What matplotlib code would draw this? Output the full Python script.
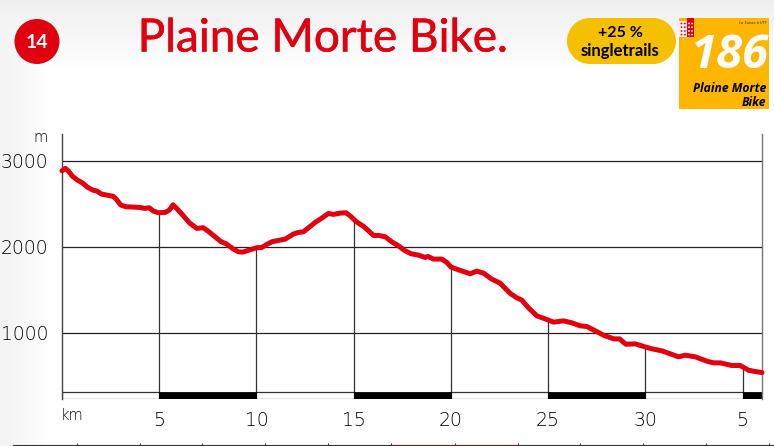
import numpy as np
import matplotlib
matplotlib.use("Agg")
import matplotlib.pyplot as plt
from matplotlib.patches import Circle, Rectangle
import matplotlib.patheffects as pe

# ---- data ----
km = [0, .17, .33, .53, .79, 1.06, 1.30, 1.58, 1.80, 2.02, 2.30, 2.64, 2.81, 3.02, 3.29, 3.67, 4.01, 4.24, 4.48, 4.70,
      4.96, 5.30, 5.52, 5.71, 5.93, 6.24, 6.55, 6.93, 7.27, 7.53, 7.87, 8.16, 8.44, 8.82, 9.07, 9.30, 9.67, 10.02,
      10.27, 10.53, 10.79, 11.13, 11.48, 11.90, 12.16, 12.42, 12.68, 13.02, 13.36, 13.70, 13.96, 14.31, 14.61, 14.85,
      15.16, 15.51, 15.76, 16.02, 16.28, 16.62, 16.96, 17.30, 17.64, 17.95, 18.33, 18.67, 18.81, 19.10, 19.53, 19.79,
      20.01, 20.39, 20.99, 21.33, 21.68, 22.10, 22.53, 23.05, 23.39, 23.65, 23.99, 24.42, 24.85, 25.28, 25.79, 26.22,
      26.65, 26.99, 27.42, 27.85, 28.37, 28.67, 29.00, 29.48, 29.99, 30.34, 30.85, 31.71, 32.05, 32.57, 33.17, 33.51,
      33.85, 34.45, 34.88, 35.31, 35.65, 36.0]
elevation = [2883, 2911, 2880, 2821, 2775, 2740, 2693, 2658, 2647, 2612, 2600, 2585, 2546, 2484, 2464, 2460, 2456, 2445,
             2452, 2414, 2394, 2398, 2425, 2487, 2437, 2359, 2278, 2212, 2220, 2177, 2115, 2060, 2033, 1971, 1940, 1936,
             1963, 1987, 1990, 2025, 2056, 2072, 2087, 2146, 2165, 2173, 2220, 2282, 2332, 2386, 2375, 2390, 2394, 2352,
             2286, 2235, 2185, 2130, 2130, 2115, 2056, 2010, 1952, 1917, 1901, 1874, 1886, 1855, 1855, 1816,
             1761, 1730, 1684, 1715, 1691, 1622, 1575, 1455, 1404, 1377, 1288, 1194, 1159, 1121, 1136, 1113,
             1078, 1070, 1020, 969, 926, 926, 864, 868, 833, 810, 787, 717, 736, 717, 666, 647,
             647, 616, 616, 561, 546, 534]
km_ticks = [5, 10, 15, 20, 25, 30, 35]
km_labels = ["5", "10", "15", "20", "25", "30", "5"]
elev_ticks = [1000, 2000, 3000]
elev_labels = ["1000", "2000", "3000"]
band_black = [(5, 5), (15, 5), (25, 5), (35, 1)]
band_white = [(0, 5), (10, 5), (20, 5), (30, 5)]

RED = "#e2000f"
W, H = 774, 446
font = "Lato"
axis_font = "DejaVu Sans"

fig = plt.figure(figsize=(W / 100, H / 100), dpi=100, facecolor="white")

# background wash
bg = fig.add_axes([0, 0, 1, 1], zorder=0)
yy, xx = np.mgrid[0:H, 0:W]
shade = np.maximum(0.065 * np.clip(1 - yy / 75, 0, 1), 0.05 * np.clip(1 - xx / 55, 0, 1))
bg.imshow(1 - shade, cmap="gray", vmin=0, vmax=1, aspect="auto", extent=(0, W, H, 0))
bg.set_axis_off()

# chart
ax = fig.add_axes([62 / W, (H - 398.5) / H, 700 / W, 264.5 / H], zorder=1)
ax.patch.set_alpha(0)
ax.set_xlim(0, 36)
ax.set_ylim(232, 3311)
for s in ("top", "bottom"):
    ax.spines[s].set_visible(False)
for s in ("left", "right"):
    ax.spines[s].set_linewidth(1.0)
    ax.spines[s].set_color("#444444")
ax.spines["right"].set_color("#777777")

ax.hlines(elev_ticks, 0, 36, color="#222222", lw=0.9, zorder=1)
ax.vlines(km_ticks, 307, np.interp(km_ticks, km, elevation), color="#333333", lw=0.9, zorder=1)
ax.broken_barh(band_white, (232, 75), facecolor="white", edgecolor="#333333", lw=0.9, zorder=2)
ax.broken_barh(band_black, (232, 75), facecolor="black", edgecolor="black", lw=0.6, zorder=2)
ax.plot(km, elevation, color=RED, lw=3.6, solid_capstyle="round", solid_joinstyle="round", zorder=3, clip_on=False)

ax.set_xticks(km_ticks, km_labels)
ax.set_yticks(elev_ticks, elev_labels)
ax.tick_params(length=0, labelsize=13.5, labelcolor="#000000")
ax.tick_params(axis="x", pad=9)
ax.tick_params(axis="y", pad=10)
for lab in ax.get_xticklabels() + ax.get_yticklabels():
    lab.set_family(axis_font)
    lab.set_fontweight("light")

# overlay in pixel coordinates
ov = fig.add_axes([0, 0, 1, 1], zorder=2)
ov.set_xlim(0, W)
ov.set_ylim(H, 0)
ov.set_axis_off()
ov.patch.set_alpha(0)

ov.text(48, 138, "m", ha="right", va="center", fontsize=10.5, fontweight="light", family=axis_font, color="#000000")
ov.text(61, 416, "km", ha="left", va="center", fontsize=10.5, fontweight="light", family=axis_font, color="#000000")

ov.add_patch(Circle((37, 41.5), 22.5, facecolor="#e0000f", edgecolor="none"))
ov.text(37, 42, "14", ha="center", va="center", color="white", fontsize=14, fontweight="bold", family=font)
title = ov.text(323, 51.5, "Plaine Morte Bike.", ha="center", va="baseline", color=RED, fontsize=33, family=font)
title.set_path_effects([pe.withStroke(linewidth=0.4, foreground=RED)])

# pill
for cx in (590, 653):
    ov.add_patch(Circle((cx, 41), 23, facecolor="#f5c000", edgecolor="none"))
ov.add_patch(Rectangle((590, 18), 63, 46, facecolor="#f5c000", edgecolor="none"))
ov.text(620, 33, "+25 %", ha="center", va="center", color="black", fontsize=11.5, fontweight="bold", family=font)
ov.text(620, 51, "singletrails", ha="center", va="center", color="black", fontsize=12, fontweight="bold", family=font)

# route sign
ov.add_patch(Rectangle((679, 18), 90, 91, facecolor="#ffb600", edgecolor="none"))
ov.add_patch(Rectangle((679, 21), 8, 16, facecolor="#fbeeee", edgecolor="none"))
ov.add_patch(Rectangle((687, 18), 7, 19, facecolor=RED, edgecolor="none"))
for i in range(4):
    for cx in (681.5, 684.8):
        ov.add_patch(Circle((cx, 23.5 + 3.7 * i), 0.9, facecolor=RED, edgecolor="none"))
    for cx in (689, 692):
        ov.add_patch(Circle((cx, 23.5 + 3.7 * i), 0.9, facecolor="white", edgecolor="none"))
ov.text(766, 23, "La Suisse à VTT", ha="right", va="center", color="#222222", fontsize=3, style="italic", family="Open Sans")
ov.text(730, 55, "186", ha="center", va="center", color="white", fontsize=34, fontweight="bold", style="italic", family="Open Sans")
ov.text(766, 89, "Plaine Morte", ha="right", va="center", color="black", fontsize=8.7, fontweight="bold", style="italic", family="Open Sans")
ov.text(766, 102, "Bike", ha="right", va="center", color="black", fontsize=8.7, fontweight="bold", style="italic", family="Open Sans")

# bottom rule from the page below the chart
ov.plot([13, 774], [444.5, 444.5], color="#333333", lw=0.8)
ov.plot([391, 517], [444.5, 444.5], color="#7a1a1a", lw=0.8)
ov.vlines([77, 140, 202, 265, 328, 391, 455, 518, 580, 643, 706, 769], 442.5, 446, color="#333333", lw=0.7)

fig.savefig("out.png", dpi=100, facecolor=fig.get_facecolor())
